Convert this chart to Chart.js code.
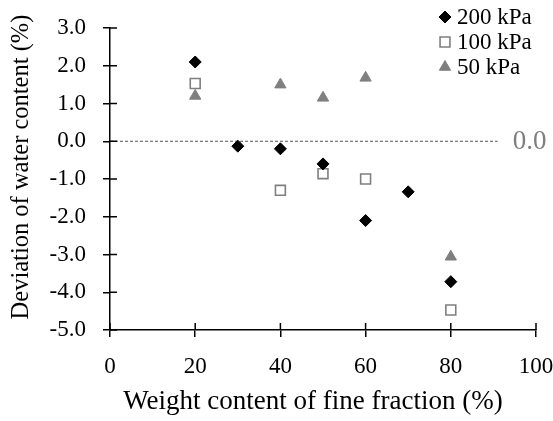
<!DOCTYPE html>
<html>
<head>
<meta charset="utf-8">
<script src="https://cdn.jsdelivr.net/npm/chart.js@4/dist/chart.umd.min.js"></script>
<style>
html,body{margin:0;padding:0;background:#fff;}
#wrap{width:553px;height:421px;position:relative;}
</style>
</head>
<body>
<div id="wrap"><canvas id="c" width="553" height="421"></canvas></div>
<script>
const seriesLabels = ['200 kPa', '100 kPa', '50 kPa'];
const x200 = [20, 30, 40, 50, 60, 70, 80];
const y200 = [2.1, -0.13, -0.2, -0.6, -2.1, -1.34, -3.72];
const x100 = [20, 40, 50, 60, 80];
const y100 = [1.53, -1.3, -0.86, -1.0, -4.47];
const x50 = [20, 40, 50, 60, 80];
const y50 = [1.2, 1.5, 1.15, 1.68, -3.06];
const xTicks = [0, 20, 40, 60, 80, 100];
const yTicks = [-5, -4, -3, -2, -1, 0, 1, 2, 3];
const xTitle = 'Weight content of fine fraction (%)';
const yTitle = 'Deviation of water content (%)';
const refValue = 0.0;
const refLabel = '0.0';
const refEndX = 91;

const toPts = (xs, ys) => xs.map((x, i) => ({x: x, y: ys[i]}));
const SERIF = '"Liberation Serif", "Times New Roman", serif';
const GRAY = '#7f7f7f';

const innerTicks = {
  id: 'innerTicks',
  afterDraw(chart) {
    const {ctx, chartArea: a, scales} = chart;
    ctx.save();
    ctx.strokeStyle = '#000';
    ctx.lineWidth = 1.5;
    ctx.beginPath();
    yTicks.forEach(v => {
      const p = scales.y.getPixelForValue(v);
      ctx.moveTo(a.left, p); ctx.lineTo(a.left + 7, p);
    });
    xTicks.forEach(v => {
      const p = scales.x.getPixelForValue(v);
      ctx.moveTo(p, a.bottom); ctx.lineTo(p, a.bottom - 7);
    });
    ctx.stroke();
    ctx.restore();
  }
};

const axisTitles = {
  id: 'axisTitles',
  afterDraw(chart) {
    const {ctx, chartArea: a} = chart;
    ctx.save();
    ctx.fillStyle = '#000';
    ctx.textAlign = 'center';
    ctx.textBaseline = 'middle';
    ctx.font = '27px ' + SERIF;
    ctx.fillText(xTitle, (a.left + a.right) / 2 - 10, 402);
    ctx.translate(22, (a.top + a.bottom) / 2 - 12);
    ctx.rotate(-Math.PI / 2);
    ctx.font = '24.5px ' + SERIF;
    ctx.fillText(yTitle, 0, 0);
    ctx.restore();
  }
};

const refLine = {
  id: 'refLine',
  beforeDatasetsDraw(chart) {
    const {ctx, chartArea: a, scales} = chart;
    const py = scales.y.getPixelForValue(refValue);
    const x2 = scales.x.getPixelForValue(refEndX);
    ctx.save();
    ctx.strokeStyle = '#555';
    ctx.lineWidth = 1;
    ctx.setLineDash([3, 2]);
    ctx.beginPath();
    ctx.moveTo(a.left, py); ctx.lineTo(x2, py);
    ctx.stroke();
    ctx.setLineDash([]);
    ctx.fillStyle = GRAY;
    ctx.font = '27px ' + SERIF;
    ctx.textBaseline = 'middle';
    ctx.textAlign = 'left';
    ctx.fillText(refLabel, x2 + 15, py + 1);
    ctx.restore();
  }
};

const customLegend = {
  id: 'customLegend',
  afterDraw(chart) {
    const {ctx} = chart;
    ctx.save();
    ctx.font = '23px ' + SERIF;
    ctx.textBaseline = 'middle';
    ctx.textAlign = 'left';
    const x0 = 445, y0 = 16, dy = 25;
    chart.data.datasets.forEach((ds, i) => {
      const cy = y0 + i * dy;
      const opts = {
        pointStyle: ds.pointStyle, radius: ds.pointRadius,
        borderWidth: ds.pointBorderWidth, rotation: 0
      };
      ctx.fillStyle = ds.pointBackgroundColor;
      ctx.strokeStyle = ds.pointBorderColor;
      ctx.lineWidth = ds.pointBorderWidth;
      Chart.helpers.drawPoint(ctx, opts, x0, cy + 1);
      ctx.fillStyle = '#000';
      ctx.fillText(ds.label, x0 + 12, cy + 2);
    });
    ctx.restore();
  }
};

new Chart(document.getElementById('c'), {
  type: 'scatter',
  data: {
    datasets: [
      {label: seriesLabels[0], data: toPts(x200, y200), pointStyle: 'rectRot', pointRadius: 6,
       pointBackgroundColor: '#000', pointBorderColor: '#000', pointBorderWidth: 1, pointHoverRadius: 6},
      {label: seriesLabels[1], data: toPts(x100, y100), pointStyle: 'rect', pointRadius: 7,
       pointBackgroundColor: '#fff', pointBorderColor: GRAY, pointBorderWidth: 1.6, pointHoverRadius: 7},
      {label: seriesLabels[2], data: toPts(x50, y50), pointStyle: 'triangle', pointRadius: 6.5,
       pointBackgroundColor: GRAY, pointBorderColor: GRAY, pointBorderWidth: 1, pointHoverRadius: 6.5}
    ]
  },
  options: {
    responsive: false,
    animation: false,
    devicePixelRatio: 1,
    layout: {padding: {top: 28, right: 17, left: 0, bottom: 0}},
    plugins: {legend: {display: false}, tooltip: {enabled: false}},
    scales: {
      x: {
        type: 'linear', min: 0, max: 100,
        afterBuildTicks: s => { s.ticks = xTicks.map(v => ({value: v})); },
        afterFit: s => { s.height = 91; s.paddingLeft = 0; s.paddingRight = 0; },
        ticks: {color: '#000', font: {family: SERIF, size: 23}, padding: 16, maxRotation: 0},
        grid: {drawOnChartArea: false, drawTicks: true, tickLength: 7, color: '#000', lineWidth: 1.5},
        border: {display: true, color: '#000', width: 1.5},
        title: {display: false}
      },
      y: {
        type: 'linear', min: -5, max: 3,
        afterBuildTicks: s => { s.ticks = yTicks.map(v => ({value: v})); },
        afterFit: s => { s.width = 110; s.paddingTop = 0; s.paddingBottom = 0; },
        ticks: {color: '#000', font: {family: SERIF, size: 23}, padding: 17,
                callback: v => v.toFixed(1)},
        grid: {drawOnChartArea: false, drawTicks: true, tickLength: 7, color: '#000', lineWidth: 1.5},
        border: {display: true, color: '#000', width: 1.5},
        title: {display: false}
      }
    }
  },
  plugins: [refLine, innerTicks, axisTitles, customLegend]
});
</script>
</body>
</html>
